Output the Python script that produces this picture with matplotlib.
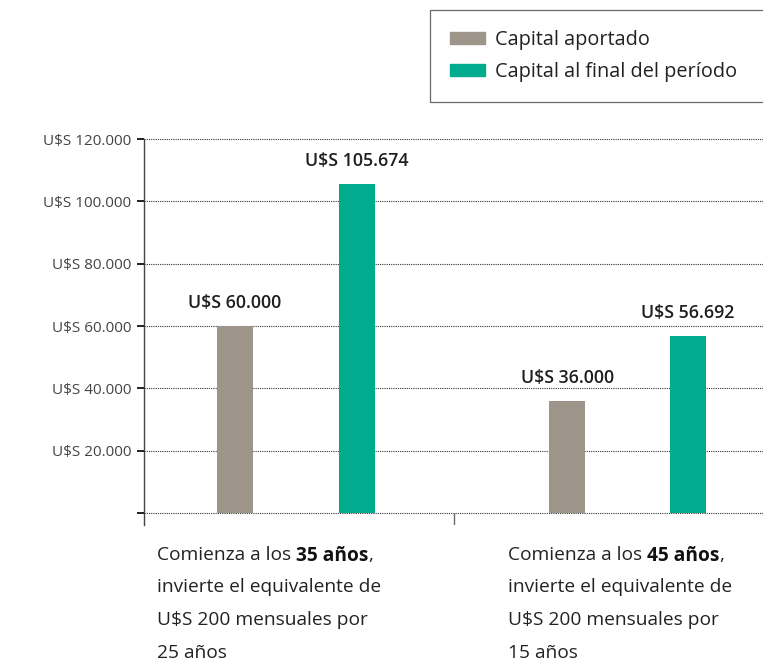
import numpy as np
import matplotlib.pyplot as plt
from matplotlib.patches import Patch

plt.rcParams['font.family'] = ['Open Sans', 'DejaVu Sans']

# data
series_names = ['Capital aportado', 'Capital al final del período']
aportado = [60000, 36000]
final = [105674, 56692]
value_labels_aportado = ['U$S 60.000', 'U$S 36.000']
value_labels_final = ['U$S 105.674', 'U$S 56.692']
ytick_values = [0, 20000, 40000, 60000, 80000, 100000, 120000]
ytick_labels = ['', 'U$S 20.000', 'U$S 40.000', 'U$S 60.000', 'U$S 80.000', 'U$S 100.000', 'U$S 120.000']
group_ages = ['35 años', '45 años']
group_years = ['25 años', '15 años']

GREY = '#9d958a'
TEAL = '#00ab8e'

# bar offsets inside each group (group width = 1)
off_grey = [0.294, 0.368]
off_teal = [0.687, 0.758]
BAR_W = 0.116
YLO = -3850

fig = plt.figure(figsize=(7.63, 6.63), dpi=100)
ax = fig.add_axes([144/763, 1-525/663, 1-144/763, (525-139)/663])

groups = np.arange(len(aportado))
ax.bar(groups + np.array(off_grey), aportado, width=BAR_W, color=GREY, zorder=3)
ax.bar(groups + np.array(off_teal), final, width=BAR_W, color=TEAL, zorder=3)

for i in groups:
    ax.annotate(value_labels_aportado[i], (i + off_grey[i], aportado[i]), xytext=(0, 13),
                textcoords='offset points', ha='center', va='baseline', fontsize=12.8,
                weight='semibold', color='#1e1e1e')
    ax.annotate(value_labels_final[i], (i + off_teal[i], final[i]), xytext=(0, 13),
                textcoords='offset points', ha='center', va='baseline', fontsize=12.8,
                weight='semibold', color='#1e1e1e')

ax.set_xlim(0, 2)
ax.set_ylim(YLO, 120000)
ax.set_yticks(ytick_values)
ax.set_yticklabels(ytick_labels, fontsize=11, color='#444444')
ax.tick_params(axis='y', length=5, width=1.4, color='#222222', pad=4)
ax.set_xticks([])
for s in ['top', 'right', 'bottom']:
    ax.spines[s].set_visible(False)
ax.spines['left'].set_color('#444444')
ax.spines['left'].set_linewidth(1.0)

for v in ytick_values:
    ax.axhline(v, color='#333333', lw=0.8, ls=(0, (1, 1)), zorder=1, clip_on=False)
ax.vlines(1, YLO, 0, color='#666666', lw=1.0)

# group descriptions under the axis
fs = 13.8
for i, x0 in enumerate([157/763, 508/763]):
    y0 = 1 - 560/663
    t1 = fig.text(x0, y0, 'Comienza a los ', fontsize=fs, color='#222222', va='baseline')
    a2 = ax.annotate(group_ages[i], xy=(1, 0), xycoords=t1, xytext=(0, -1.2),
                     textcoords='offset points', va='bottom', ha='left',
                     fontsize=fs, weight='bold', color='#111111', annotation_clip=False)
    ax.annotate(',', xy=(1, 0), xycoords=a2, xytext=(0, 1.2), textcoords='offset points',
                va='bottom', ha='left', fontsize=fs, color='#222222', annotation_clip=False)
    lines = ['invierte el equivalente de', 'U$S 200 mensuales por', group_years[i]]
    for k, ln in enumerate(lines):
        fig.text(x0, y0 - (k + 1) * 32.5/663, ln, fontsize=fs, color='#222222', va='baseline')

handles = [Patch(color=GREY), Patch(color=TEAL)]
leg = fig.legend(handles, series_names, loc='upper left',
                 bbox_to_anchor=(430/763, 1-96/663, 340/763, 86/663), mode='expand',
                 fontsize=14.3, frameon=True, fancybox=False, edgecolor='#444444',
                 handlelength=1.76, handleheight=0.55, handletextpad=0.5,
                 labelspacing=0.6, borderpad=1.0, borderaxespad=0)
leg.get_frame().set_linewidth(0.9)
for t in leg.get_texts():
    t.set_color('#222222')

fig.savefig('out.png', dpi=100)
